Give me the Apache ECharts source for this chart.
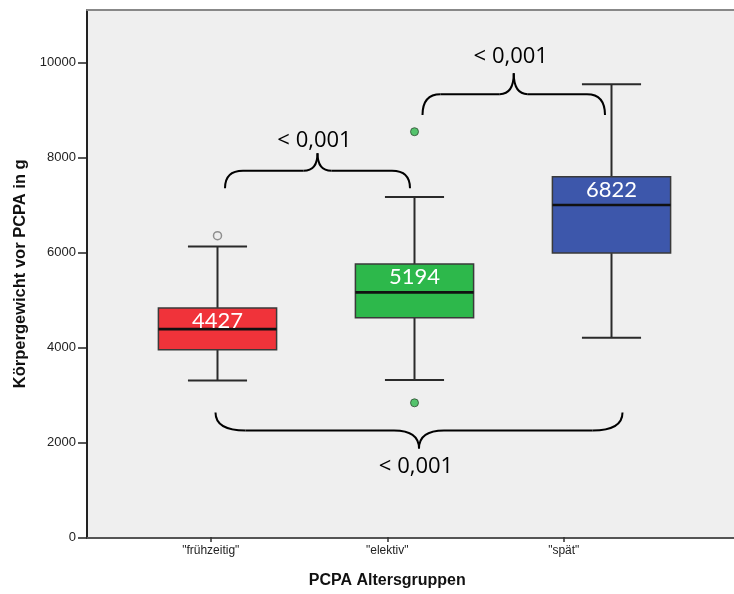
<!DOCTYPE html>
<html>
<head>
<meta charset="utf-8">
<script src="https://cdn.jsdelivr.net/npm/echarts@6/dist/echarts.min.js"></script>
<style>
  html, body { margin: 0; padding: 0; background: #ffffff; }
  #chart { width: 734px; height: 594px; }
</style>
</head>
<body>
<div id="chart"></div>
<script>
// Groups on the x axis
const categories = ['"frühzeitig"', '"elektiv"', '"spät"'];
// Box statistics per group: [lower whisker, Q1, median, Q3, upper whisker]
const lowerWhisker = [3305, 3312, 4202];
const q1Values     = [3950, 4623, 5985];
const medians      = [4385, 5158, 6996];
const q3Values     = [4827, 5754, 7592];
const upperWhisker = [6126, 7164, 9537];
// Mean weights printed inside the boxes
const means = [4427, 5194, 6822];
// Outliers: [group index, weight]
const outliersOpen = [[0, 6350]];
const outliersFilled = [[1, 8539], [1, 2834]];
// Y axis ticks
const yTicks = [0, 2000, 4000, 6000, 8000, 10000];
const yMax = 11100;
// Box fill colours
const boxColors = ['#f0333a', '#2db84b', '#3d57ab'];
// Pairwise comparisons drawn as curly braces
const comparisons = [
  { from: 0, to: 1, text: '< 0,001' },
  { from: 1, to: 2, text: '< 0,001' },
  { from: 0, to: 2, text: '< 0,001' }
];
// Brace geometry (end level, tip level in axis units; pixel tweaks)
const braceStyle = [
  { ends: 7348, tip: 8084, dxL: 7.5, dxR: -4.5, r: 18, rt: 14, textDy: -13 },
  { ends: 8891, tip: 9768, dxL: 8, dxR: -6.5, r: 18, rt: 14, textDy: -16.5 },
  { ends: 2632, tip: 1874, dxL: -2, dxR: 11, r: 30, rt: 25, textDy: 18 }
];

const boxData = categories.map((c, i) =>
  [i, lowerWhisker[i], q1Values[i], medians[i], q3Values[i], upperWhisker[i]]);

const chart = echarts.init(document.getElementById('chart'), null, { renderer: 'canvas' });

const TOP = 10, BOTTOM = 56.5;
const labelFont = 'Liberation Sans, Arial, sans-serif';

function renderBox(params, api) {
  const i = api.value(0);
  const lo = api.coord([i, api.value(1)]);
  const q1 = api.coord([i, api.value(2)]);
  const med = api.coord([i, api.value(3)]);
  const q3 = api.coord([i, api.value(4)]);
  const hi = api.coord([i, api.value(5)]);
  const band = api.size([1, 0])[0];
  const bw = band * 0.6;
  const cw = band * 0.3;
  const x = lo[0];
  const whisk = { stroke: '#2a2a2a', lineWidth: 2 };
  return {
    type: 'group',
    children: [
      { type: 'line', shape: { x1: x, y1: hi[1], x2: x, y2: q3[1] }, style: whisk },
      { type: 'line', shape: { x1: x, y1: q1[1], x2: x, y2: lo[1] }, style: whisk },
      { type: 'line', shape: { x1: x - cw / 2, y1: hi[1], x2: x + cw / 2, y2: hi[1] }, style: whisk },
      { type: 'line', shape: { x1: x - cw / 2, y1: lo[1], x2: x + cw / 2, y2: lo[1] }, style: whisk },
      { type: 'rect', shape: { x: x - bw / 2, y: q3[1], width: bw, height: q1[1] - q3[1] },
        style: { fill: boxColors[i], stroke: '#3a3a3a', lineWidth: 1.5 } },
      { type: 'line', shape: { x1: x - bw / 2, y1: med[1], x2: x + bw / 2, y2: med[1] },
        style: { stroke: '#111111', lineWidth: 2.6 } },
      { type: 'text', x: x, y: q3[1] + 13,
        style: { text: String(means[i]), fill: '#ffffff', font: '22px Lato, sans-serif',
                 align: 'center', verticalAlign: 'middle', textAlign: 'center', textVerticalAlign: 'middle' } }
    ]
  };
}

const option = {
  backgroundColor: '#ffffff',
  animation: false,
  grid: [
    { left: 87, right: 0, top: TOP, bottom: BOTTOM, show: true, backgroundColor: '#efefef', borderWidth: 0 },
    { left: 119, right: 24, top: TOP, bottom: BOTTOM },
    { left: 122.5, right: 82, top: TOP, bottom: BOTTOM }
  ],
  xAxis: [
    { gridIndex: 0, type: 'value', min: 0, max: 1, position: 'bottom',
      axisLine: { show: true, lineStyle: { color: '#555555', width: 2 } },
      axisTick: { show: false }, axisLabel: { show: false }, splitLine: { show: false } },
    { gridIndex: 0, type: 'value', min: 0, max: 1, position: 'top',
      axisLine: { show: true, lineStyle: { color: '#888888', width: 2 } },
      axisTick: { show: false }, axisLabel: { show: false }, splitLine: { show: false } },
    { gridIndex: 1, type: 'category', data: categories, show: false },
    { gridIndex: 2, type: 'category', data: categories, position: 'bottom',
      axisLine: { show: false },
      axisTick: { show: true, alignWithLabel: true, length: 5, lineStyle: { color: '#333333', width: 1.5 } },
      axisLabel: { color: '#222222', fontSize: 12, fontFamily: labelFont, margin: 8 },
      name: 'PCPA Altersgruppen', nameLocation: 'middle', nameGap: 36,
      nameTextStyle: { fontSize: 16, fontWeight: 'bold', color: '#111111', fontFamily: labelFont } }
  ],
  yAxis: [
    { gridIndex: 0, type: 'value', min: 0, max: yMax, interval: 2000,
      axisLine: { show: true, lineStyle: { color: '#222222', width: 2 } },
      axisTick: { show: true, length: 9, customValues: yTicks, lineStyle: { color: '#222222', width: 1.5 } },
      axisLabel: { customValues: yTicks, color: '#222222', fontSize: 13,
                   fontFamily: labelFont, margin: 11,
                   formatter: v => (v % 2000 === 0 ? String(v) : '') },
      splitLine: { show: false },
      name: 'Körpergewicht vor PCPA in g', nameLocation: 'middle', nameGap: 55,
      nameTextStyle: { fontSize: 16.5, fontWeight: 'bold', color: '#111111', fontFamily: labelFont } },
    { gridIndex: 1, type: 'value', min: 0, max: yMax, show: false, splitLine: { show: false } },
    { gridIndex: 2, type: 'value', min: 0, max: yMax, show: false, splitLine: { show: false } }
  ],
  series: [
    { type: 'custom', xAxisIndex: 2, yAxisIndex: 1, data: boxData, renderItem: renderBox,
      encode: { x: 0, y: [1, 2, 3, 4, 5] }, z: 3 },
    { type: 'scatter', xAxisIndex: 2, yAxisIndex: 1, data: outliersOpen, symbol: 'circle', symbolSize: 8,
      itemStyle: { color: '#eeeeee', borderColor: '#777777', borderWidth: 1.5 }, z: 4 },
    { type: 'scatter', xAxisIndex: 2, yAxisIndex: 1, data: outliersFilled, symbol: 'circle', symbolSize: 8,
      itemStyle: { color: boxColors[1], borderColor: '#2f4a33', borderWidth: 1 }, z: 4 }
  ]
};

chart.setOption(option);

// Curly braces with p-values between groups
function braceElements() {
  const els = [];
  const stroke = { fill: null, stroke: '#000000', lineWidth: 2 };
  comparisons.forEach((c, k) => {
    const s = braceStyle[k];
    const xL = chart.convertToPixel({ xAxisIndex: 2 }, c.from) + s.dxL;
    const xR = chart.convertToPixel({ xAxisIndex: 2 }, c.to) + s.dxR;
    const yE = chart.convertToPixel({ yAxisIndex: 1 }, s.ends);
    const yT = chart.convertToPixel({ yAxisIndex: 1 }, s.tip);
    const yH = (yE + yT) / 2;
    const xT = (xL + xR) / 2;
    const curve = (x1, y1, cx, cy, x2, y2) => ({
      type: 'bezierCurve', z: 10, style: stroke,
      shape: { x1: x1, y1: y1, cpx1: cx, cpy1: cy, x2: x2, y2: y2 }
    });
    const seg = (x1, y1, x2, y2) => ({
      type: 'line', z: 10, style: stroke, shape: { x1: x1, y1: y1, x2: x2, y2: y2 }
    });
    els.push(curve(xL, yE, xL, yH, xL + s.r, yH));
    els.push(seg(xL + s.r, yH, xT - s.rt, yH));
    els.push(curve(xT - s.rt, yH, xT, yH, xT, yT));
    els.push(curve(xT, yT, xT, yH, xT + s.rt, yH));
    els.push(seg(xT + s.rt, yH, xR - s.r, yH));
    els.push(curve(xR - s.r, yH, xR, yH, xR, yE));
    els.push({ type: 'text', x: xT - 3, y: yT + s.textDy, z: 10,
      style: { text: c.text, fill: '#000000', font: '22px "Open Sans", sans-serif',
               align: 'center', verticalAlign: 'middle', textAlign: 'center', textVerticalAlign: 'middle' } });
  });
  return els;
}

chart.setOption({ graphic: braceElements() });
</script>
</body>
</html>
